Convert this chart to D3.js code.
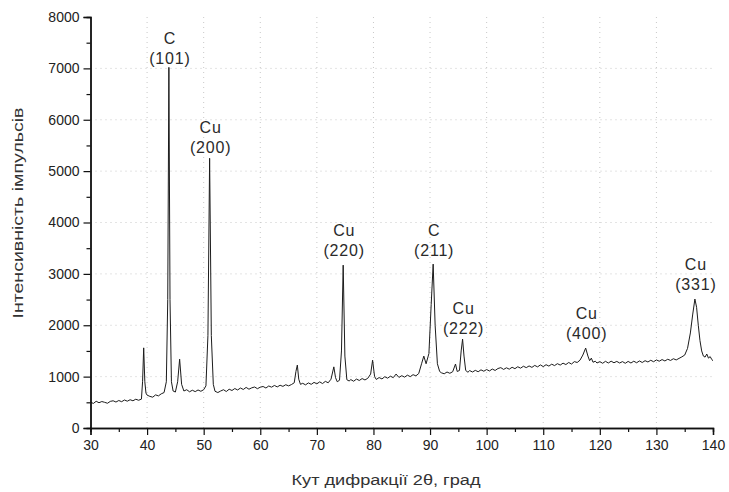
<!DOCTYPE html>
<html>
<head>
<meta charset="utf-8">
<script src="https://cdn.jsdelivr.net/npm/d3@7"></script>
<style>
  html, body { margin: 0; padding: 0; background: #fff; }
  svg { display: block; }
  text { font-family: "Liberation Sans", Arial, Helvetica, sans-serif; }
</style>
</head>
<body>
<svg id="chart" width="729" height="492"></svg>
<script>
// ---- data ----
const angles = [
  30,30.5,31,31.5,32,32.5,33,33.5,34,34.5,35,35.5,36,36.5,37,37.5,38,38.5,39,39.2,39.4,39.6,39.8,40,40.5,41,41.5,42,42.5,43,43.4,43.65,43.85,44.05,44.3,44.6,45,45.4,45.75,46.1,46.5,47,47.5,48,48.5,49,49.5,50,50.4,50.75,51.05,51.35,51.7,52,52.5,53,53.5,54,54.5,55,55.5,56,56.5,57,57.5,58,58.5,59,59.5,60,60.5,61,61.5,62,62.5,63,63.5,64,64.5,65,65.5,66,66.3,66.55,66.8,67.1,67.5,68,68.5,69,69.5,70,70.5,71,71.5,72,72.5,73,73.3,73.6,74,74.35,74.65,74.95,75.3,75.7,76,76.5,77,77.5,78,78.5,79,79.5,79.85,80.2,80.5,81,81.5,82,82.5,83,83.5,84,84.5,85,85.5,86,86.5,87,87.5,88,88.5,88.9,89.3,89.8,90.2,90.55,90.9,91.3,91.7,92,92.5,93,93.5,94,94.5,94.8,95.2,95.5,95.75,96,96.3,96.7,97,97.5,98,98.5,99,99.5,100,100.5,101,101.5,102,102.5,103,103.5,104,104.5,105,105.5,106,106.5,107,107.5,108,108.5,109,109.5,110,110.5,111,111.5,112,112.5,113,113.5,114,114.5,115,115.5,116,116.5,117,117.5,117.9,118.2,118.5,118.8,119.2,119.5,120,120.5,121,121.5,122,122.5,123,123.5,124,124.5,125,125.5,126,126.5,127,127.5,128,128.5,129,129.5,130,130.5,131,131.5,132,132.5,133,133.5,134,134.5,135,135.5,136,136.4,136.8,137.1,137.4,137.7,138,138.3,138.6,138.9,139.2,139.5,139.8,140
];
const counts = [
  505,478,520,492,515,500,482,518,530,505,535,512,545,522,550,530,560,540,562,
  900,1560,900,680,
  640,615,600,645,625,665,690,
  900,2500,7020,2500,900,720,700,900,1340,850,720,
  745,705,735,708,740,715,745,
  820,1800,5250,1800,850,
  715,690,720,745,710,755,730,768,740,778,750,790,755,782,798,765,795,808,778,818,795,828,800,832,810,842,820,845,
  880,1100,1225,950,850,
  870,840,878,850,888,860,898,865,908,880,
  950,1190,980,900,930,1500,3170,1400,940,
  915,942,910,952,925,962,935,968,
  1050,1320,1000,
  945,982,955,998,970,1008,980,1050,985,1018,990,1028,1000,1038,1015,1060,
  1250,1400,1250,1450,2400,3190,2000,1250,1100,
  1075,1055,1090,1065,1095,
  1245,1100,1120,1500,1730,1400,1120,
  1085,
  1118,1090,1122,1095,1132,1105,1138,1110,1148,1120,
  1158,1175,1140,1172,1145,1182,1155,1192,1165,1202,
  1175,1208,1180,1218,1190,1228,1195,1232,1205,1242,
  1215,1252,1225,1262,1235,1275,1245,1292,1275,
  1320,1420,1556,1400,1310,1360,1280,1300,
  1265,
  1292,1260,1298,1265,1300,1270,1296,1265,1292,1260,
  1296,1265,1300,1270,1305,1275,1310,1285,1318,1290,
  1325,1300,1332,1305,1338,1315,1348,1325,1355,1385,
  1420,
  1550,1850,2200,2510,2350,2000,1700,1500,1400,1380,1440,1360,1390,1330,1310
];
const xTicks = [30,40,50,60,70,80,90,100,110,120,130,140];
const yTicks = [0,1000,2000,3000,4000,5000,6000,7000,8000];
const peakAngles = [43.85, 51.05, 74.65, 90.55, 95.75, 117.5, 136.8];
const peakElements = ["C", "Cu", "Cu", "C", "Cu", "Cu", "Cu"];
const peakIndices = ["(101)", "(200)", "(220)", "(211)", "(222)", "(400)", "(331)"];
const peakLabelLevels = [7475, 5746, 3737, 3737, 2219, 2122, 3075];
const xTitle = "Кут дифракції 2θ, град";
const yTitle = "Інтенсивність імпульсів";

// ---- drawing ----
const svg = d3.select("#chart");
const x = d3.scaleLinear().domain([30, 140]).range([90.5, 713]);
const y = d3.scaleLinear().domain([0, 8000]).range([428, 17]);

// faint dotted grid
const grid = svg.append("g").attr("stroke", "#c8c8c8").attr("stroke-dasharray", "1,4").attr("stroke-width", 1);
grid.selectAll("line.v").data(xTicks.filter(t => t > 30 && t < 140)).join("line")
  .attr("x1", d => x(d)).attr("x2", d => x(d)).attr("y1", y(0)).attr("y2", y(8000));
grid.selectAll("line.h").data(yTicks.filter(t => t > 0 && t < 8000)).join("line")
  .attr("x1", x(30)).attr("x2", x(140)).attr("y1", d => y(d)).attr("y2", d => y(d));

// data line
const n = Math.min(angles.length, counts.length);
const pts = d3.range(n).map(i => [angles[i], counts[i]]);
svg.append("path").datum(pts)
  .attr("fill", "none").attr("stroke", "#1c1c1c").attr("stroke-width", 1)
  .attr("stroke-linejoin", "round")
  .attr("d", d3.line().x(d => x(d[0])).y(d => y(d[1])));

// axes
const xAxis = d3.axisBottom(x).tickValues(xTicks).tickSize(7).tickPadding(5).tickFormat(d3.format("d"));
const xMinor = d3.axisBottom(x).tickValues(d3.range(35, 140, 10)).tickSize(4).tickFormat("");
const yAxis = d3.axisLeft(y).tickValues(yTicks).tickSize(7).tickPadding(4).tickFormat(d3.format("d"));
const yMinor = d3.axisLeft(y).tickValues(d3.range(500, 8000, 1000)).tickSize(4).tickFormat("");

function styleAxis(g) {
  g.select(".domain").attr("stroke", "#111").attr("stroke-width", 1.4);
  g.selectAll(".tick line").attr("stroke", "#111").attr("stroke-width", 1.2);
  g.selectAll(".tick text").attr("fill", "#222").style("font-size", "14px")
    .style("font-family", "'Liberation Sans', Arial, sans-serif");
}
svg.append("g").attr("transform", `translate(0,${y(0)})`).call(xMinor).call(styleAxis);
svg.append("g").attr("transform", `translate(0,${y(0)})`).call(xAxis).call(styleAxis);
svg.append("g").attr("transform", `translate(${x(30)},0)`).call(yMinor).call(styleAxis);
svg.append("g").attr("transform", `translate(${x(30)},0)`).call(yAxis).call(styleAxis);

// peak labels
const lab = svg.append("g").attr("fill", "#2a2a2a").attr("text-anchor", "middle")
  .style("font-size", "16px").style("letter-spacing", "0.8px");
peakAngles.forEach((a, i) => {
  lab.append("text").attr("x", x(a) + 1).attr("y", y(peakLabelLevels[i])).text(peakElements[i]);
  lab.append("text").attr("x", x(a) + 1).attr("y", y(peakLabelLevels[i]) + 20).text(peakIndices[i]);
});

// axis titles
svg.append("text").attr("x", 386).attr("y", 485).attr("text-anchor", "middle")
  .attr("fill", "#333").style("font-size", "14px")
  .attr("textLength", 189).attr("lengthAdjust", "spacingAndGlyphs").text(xTitle);
svg.append("text").attr("transform", `translate(23,213) rotate(-90)`).attr("text-anchor", "middle")
  .attr("fill", "#333").style("font-size", "14px")
  .attr("textLength", 211).attr("lengthAdjust", "spacingAndGlyphs").text(yTitle);
</script>
</body>
</html>
